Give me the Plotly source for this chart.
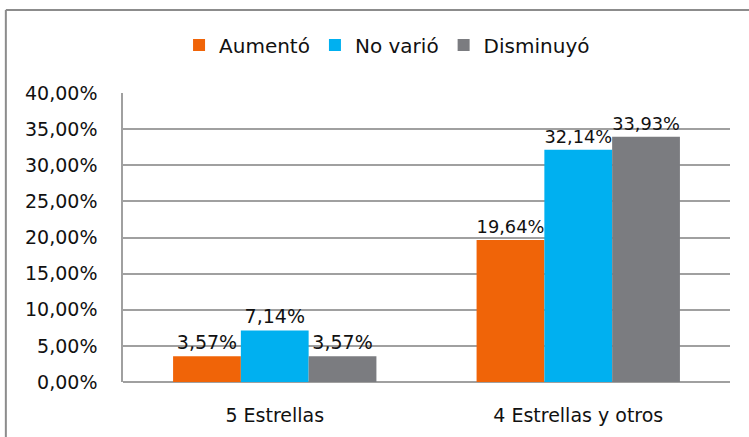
import plotly.graph_objects as go

categories = ["5 Estrellas", "4 Estrellas y otros"]
series_names = ["Aumentó", "No varió", "Disminuyó"]
aumento = [0.0357, 0.1964]
no_vario = [0.0714, 0.3214]
disminuyo = [0.0357, 0.3393]
labels_aumento = ["3,57%", "19,64%"]
labels_no_vario = ["7,14%", "32,14%"]
labels_disminuyo = ["3,57%", "33,93%"]
colors = ["#F06408", "#00B0F0", "#7B7C80"]

values = [aumento, no_vario, disminuyo]
labels = [labels_aumento, labels_no_vario, labels_disminuyo]

FONT = "DejaVu Sans, Open Sans, sans-serif"

fig = go.Figure()
for name, vals, labs, col in zip(series_names, values, labels, colors):
    fig.add_trace(go.Bar(
        x=categories, y=vals, name=name, text=labs,
        textposition="outside", cliponaxis=False,
        textfont=dict(family=FONT, size=19, color="#111111"),
        marker=dict(color=col, line=dict(color=col, width=0)),
    ))

fig.update_layout(
    width=749, height=437,
    barmode="group", bargap=0.33, bargroupgap=0,
    plot_bgcolor="white", paper_bgcolor="white",
    separators=",.",
    font=dict(family=FONT, size=19, color="#111111"),
    margin=dict(l=123, r=19, t=93, b=55),
    legend=dict(orientation="h", x=0.435, xanchor="center", y=1.166, yanchor="middle",
                font=dict(size=20), itemwidth=30, traceorder="normal"),
    xaxis=dict(showline=False, ticks="", tickfont=dict(size=19), ticklabelstandoff=20),
    yaxis=dict(range=[0, 0.4], dtick=0.05, tickformat=".2%",
               showgrid=True, gridcolor="#A0A0A0", gridwidth=1.5,
               showline=True, linecolor="#A0A0A0", linewidth=1.5,
               zeroline=True, zerolinecolor="#A0A0A0", zerolinewidth=1.5,
               tickfont=dict(size=19), ticks="", ticklabelstandoff=20),
    shapes=[
        dict(type="line", xref="paper", yref="paper", x0=-0.193, x1=1.2, y0=1.287, y1=1.287,
             line=dict(color="#8C8C8C", width=2)),
        dict(type="line", xref="paper", yref="paper", x0=-0.193, x1=-0.193, y0=1.287, y1=-0.3,
             line=dict(color="#8C8C8C", width=2)),
    ],
)

fig.write_html("out.html", config={"displayModeBar": False},
               post_script="document.body.style.margin='0';")
